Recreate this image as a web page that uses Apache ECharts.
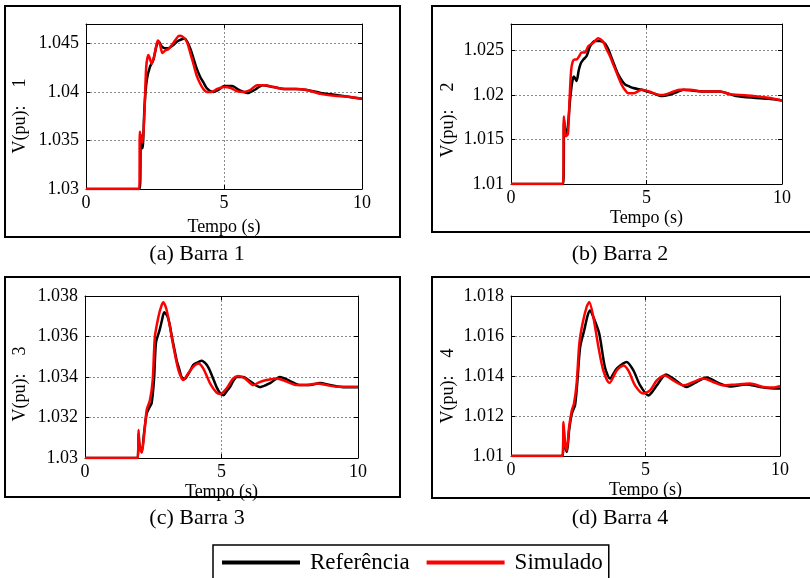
<!DOCTYPE html>
<html><head><meta charset="utf-8">
<script src="https://cdn.jsdelivr.net/npm/echarts@6/dist/echarts.min.js"></script>
<style>html,body{margin:0;padding:0;background:#fff}#c{width:810px;height:578px}</style>
</head><body><div id="c"></div>
<script>
// ---- data ----
const xTicks = [0, 5, 10];
const panelTitles = ['(a) Barra 1', '(b) Barra 2', '(c) Barra 3', '(d) Barra 4'];
const yTitles = ['V(pu):    1', 'V(pu):    2', 'V(pu):    3', 'V(pu):    4'];
const seriesNames = ['Referência', 'Simulado'];

// Barra 1
const t1Ref = [0,1.95,1.98,2.0,2.05,2.12,2.2,2.32,2.44,2.55,2.64,2.74,2.88,2.98,3.15,3.3,3.45,3.57,3.68,3.8,3.9,4.0,4.13,4.25,4.37,4.5,4.62,4.8,5.0,5.3,5.55,5.85,6.1,6.4,6.8,7.2,7.6,8.0,8.5,9.0,9.5,10];
const v1Ref = [1.03,1.03,1.0352,1.0355,1.0342,1.0385,1.0412,1.0426,1.0433,1.0447,1.0452,1.0447,1.0445,1.0445,1.0448,1.0452,1.0454,1.0455,1.0451,1.0443,1.0434,1.0425,1.0416,1.041,1.0404,1.0401,1.04,1.0402,1.0406,1.0406,1.0402,1.0399,1.0402,1.0407,1.0405,1.0403,1.0403,1.0402,1.0399,1.0397,1.0395,1.0393];
const t1Sim = [0,1.93,1.95,1.99,2.05,2.12,2.18,2.26,2.32,2.38,2.48,2.6,2.68,2.77,2.88,2.98,3.1,3.25,3.38,3.5,3.65,3.78,3.9,4.02,4.13,4.25,4.38,4.55,4.75,5.0,5.25,5.45,5.7,5.95,6.2,6.5,6.8,7.2,7.6,8.0,8.5,9.0,9.5,10];
const v1Sim = [1.03,1.03,1.0359,1.0352,1.0348,1.038,1.0425,1.0438,1.0434,1.0429,1.0438,1.0453,1.0449,1.044,1.0443,1.0444,1.0448,1.0454,1.0458,1.0457,1.0452,1.044,1.0428,1.0416,1.0409,1.0403,1.04,1.04,1.0403,1.0405,1.0404,1.0401,1.04,1.0402,1.0407,1.0407,1.0405,1.0403,1.0403,1.0402,1.0398,1.0396,1.0395,1.0393];

// Barra 2
const t2Ref = [0,1.93,1.96,2.02,2.1,2.18,2.26,2.32,2.42,2.5,2.58,2.67,2.79,2.92,3.1,3.28,3.47,3.6,3.71,3.85,3.96,4.1,4.21,4.35,4.51,4.82,5.25,5.57,5.8,6.1,6.36,6.73,7.2,7.7,8.3,8.94,9.5,10];
const v2Ref = [1.01,1.01,1.0172,1.0154,1.0165,1.0195,1.0215,1.0221,1.0216,1.0228,1.0236,1.024,1.0244,1.0255,1.0261,1.0261,1.0258,1.0251,1.0242,1.0231,1.0223,1.0216,1.0212,1.021,1.0208,1.0206,1.0202,1.0199,1.02,1.0203,1.0206,1.0205,1.0204,1.0204,1.0199,1.0197,1.0196,1.0194];
const t2Sim = [0,1.92,1.95,2.02,2.1,2.16,2.22,2.28,2.35,2.42,2.52,2.6,2.73,2.85,3.04,3.22,3.4,3.52,3.65,3.78,3.9,4.08,4.2,4.33,4.51,4.82,5.1,5.5,5.74,6.0,6.24,6.6,7.1,7.7,8.1,8.94,9.5,10];
const v2Sim = [1.01,1.01,1.0176,1.0154,1.0156,1.0195,1.0228,1.0238,1.024,1.024,1.0244,1.0248,1.0248,1.0255,1.0259,1.0264,1.026,1.0252,1.0244,1.0234,1.0225,1.0212,1.0206,1.0202,1.0202,1.0206,1.0204,1.02,1.0201,1.0204,1.0206,1.0206,1.0204,1.0204,1.0201,1.0199,1.0197,1.0194];

// Barra 3
const t3Ref = [0,1.93,1.96,2.0,2.08,2.16,2.26,2.36,2.44,2.53,2.6,2.73,2.82,2.9,3.02,3.1,3.18,3.27,3.36,3.45,3.54,3.66,3.76,3.85,3.97,4.09,4.27,4.46,4.58,4.7,4.82,4.95,5.07,5.19,5.31,5.43,5.56,5.8,6.04,6.41,6.78,7.14,7.51,7.88,8.24,8.61,8.97,9.46,10];
const v3Ref = [1.03,1.03,1.0312,1.0306,1.0303,1.0312,1.0322,1.0325,1.0327,1.0339,1.0357,1.0363,1.0368,1.0372,1.037,1.0366,1.036,1.0354,1.0348,1.0344,1.034,1.0339,1.0341,1.0343,1.0346,1.0347,1.0348,1.0346,1.0343,1.0339,1.0335,1.0332,1.0331,1.0333,1.0335,1.0338,1.034,1.034,1.0338,1.0335,1.0337,1.034,1.0338,1.0336,1.0336,1.0337,1.0336,1.0335,1.0335];
const t3Sim = [0,1.93,1.96,2.0,2.08,2.16,2.26,2.38,2.48,2.56,2.69,2.79,2.87,2.99,3.11,3.24,3.42,3.6,3.78,3.97,4.15,4.33,4.58,4.82,4.95,5.19,5.43,5.62,5.86,6.17,6.35,6.65,7.02,7.39,7.75,8.12,8.49,8.85,9.22,10];
const v3Sim = [1.03,1.03,1.03138,1.03056,1.03026,1.03105,1.03237,1.03286,1.03385,1.03599,1.03698,1.03748,1.03769,1.03731,1.03649,1.0355,1.03435,1.03385,1.03418,1.03451,1.03467,1.03443,1.03369,1.03323,1.03316,1.03344,1.03393,1.03405,1.03393,1.0336,1.03372,1.03385,1.03393,1.03377,1.0336,1.0336,1.03368,1.0336,1.03352,1.03352];

// Barra 4
const t4Ref = [0,1.92,1.95,2.0,2.08,2.16,2.26,2.38,2.47,2.57,2.72,2.85,2.94,3.06,3.28,3.49,3.68,3.93,4.3,4.55,4.8,5.11,5.42,5.76,6.03,6.53,6.9,7.27,7.77,8.14,8.75,9.26,9.94,10];
const v4Ref = [1.01,1.01,1.01145,1.01062,1.0102,1.01128,1.01212,1.01253,1.01378,1.01545,1.01628,1.01703,1.01728,1.01695,1.01612,1.01445,1.01387,1.01437,1.0147,1.01428,1.01353,1.01303,1.01353,1.01408,1.01387,1.01345,1.0137,1.01392,1.01362,1.01348,1.01358,1.01345,1.01337,1.01337];
const t4Sim = [0,1.92,1.95,2.0,2.07,2.16,2.26,2.34,2.44,2.54,2.66,2.81,2.91,3.06,3.25,3.43,3.66,3.93,4.18,4.36,4.61,4.92,5.17,5.42,5.72,6.03,6.41,6.78,7.15,7.52,7.89,8.39,8.88,9.38,9.75,10];
const v4Sim = [1.01,1.01,1.0117,1.01078,1.01028,1.01145,1.01228,1.01262,1.01362,1.01562,1.01662,1.01745,1.0177,1.01695,1.01545,1.01428,1.01365,1.01428,1.01453,1.01428,1.01353,1.01312,1.01328,1.01378,1.01403,1.01378,1.01353,1.0137,1.01387,1.0137,1.01353,1.01358,1.01362,1.01345,1.01342,1.0135];

// y-axis ranges / tick steps
const yMin = [1.03, 1.01, 1.03, 1.01];
const yMax = [1.047, 1.028, 1.038, 1.018];
const yStep = [0.005, 0.005, 0.002, 0.002];

// ---- layout ----
const FONT = "'Liberation Serif', 'Times New Roman', serif";
const grids = [
  {left: 86, top: 24, width: 276, height: 165},
  {left: 511, top: 24, width: 271, height: 160},
  {left: 85, top: 296, width: 273, height: 162},
  {left: 511, top: 296, width: 269, height: 160}
];
const nameGaps = [29, 25, 25, 25];
const boxes = [
  {x: 5, y: 6, width: 395, height: 231},
  {x: 432, y: 6, width: 390, height: 226},
  {x: 5, y: 277, width: 395, height: 220},
  {x: 432, y: 277, width: 390, height: 221}
];
const captionPos = [[197, 254], [620, 254], [197, 518], [620, 518]];
const yTitlePos = [[20, 116], [448, 120], [20, 384], [448, 386]];

const refT = [t1Ref, t2Ref, t3Ref, t4Ref], refV = [v1Ref, v2Ref, v3Ref, v4Ref];
const simT = [t1Sim, t2Sim, t3Sim, t4Sim], simV = [v1Sim, v2Sim, v3Sim, v4Sim];
const pairs = (t, v) => t.map((x, i) => [x, v[i]]);

const gridLine = {show: true, lineStyle: {color: '#8a8a8a', type: [2, 2], width: 1}};
const axLine = {show: true, onZero: false, lineStyle: {color: '#000', width: 1}};
const tick = {show: true, inside: true, length: 4, lineStyle: {color: '#000'}};
const fmt = v => String(parseFloat(Number(v).toFixed(4)));

const option = {
  animation: false,
  backgroundColor: '#fff',
  textStyle: {fontFamily: FONT},
  grid: grids.map(g => Object.assign({containLabel: false}, g)),
  xAxis: [], yAxis: [], series: [],
  legend: {
    data: seriesNames,
    left: 213, top: 545,
    padding: [6, 6, 6, 9],
    itemGap: 17, itemWidth: 78, itemHeight: 4, icon: 'rect',
    borderColor: '#000', borderWidth: 1.5,
    textStyle: {fontFamily: FONT, fontSize: 23, color: '#000', padding: [0, 0, 0, 5]}
  },
  graphic: []
};

for (let p = 0; p < 4; p++) {
  option.xAxis.push({
    type: 'value', gridIndex: p, min: 0, max: 10, interval: 5, position: 'bottom',
    axisLine: axLine, axisTick: tick, splitLine: gridLine,
    axisLabel: {fontFamily: FONT, fontSize: 18, color: '#000', margin: 5,
      formatter: v => (xTicks.indexOf(v) >= 0 ? String(v) : '')},
    name: 'Tempo (s)', nameLocation: 'middle', nameGap: nameGaps[p],
    nameTextStyle: {fontFamily: FONT, fontSize: 18, color: '#000'}
  });
  option.xAxis.push({
    type: 'value', gridIndex: p, min: 0, max: 10, interval: 5, position: 'top',
    axisLine: axLine, axisTick: tick, splitLine: {show: false}, axisLabel: {show: false}
  });
  option.yAxis.push({
    type: 'value', gridIndex: p, min: yMin[p], max: yMax[p], interval: yStep[p], position: 'left',
    axisLine: axLine, axisTick: tick, splitLine: gridLine,
    axisLabel: {fontFamily: FONT, fontSize: 18, color: '#000', margin: 7, showMaxLabel: p >= 2, formatter: fmt}
  });
  option.yAxis.push({
    type: 'value', gridIndex: p, min: yMin[p], max: yMax[p], interval: yStep[p], position: 'right',
    axisLine: axLine, axisTick: tick, splitLine: {show: false}, axisLabel: {show: false}
  });
  option.series.push({
    name: seriesNames[0], type: 'line', xAxisIndex: 2 * p, yAxisIndex: 2 * p,
    data: pairs(refT[p], refV[p]), showSymbol: false, smooth: 0.25,
    lineStyle: {color: '#000', width: 2.5}, itemStyle: {color: '#000'}, z: 2
  });
  option.series.push({
    name: seriesNames[1], type: 'line', xAxisIndex: 2 * p, yAxisIndex: 2 * p,
    data: pairs(simT[p], simV[p]), showSymbol: false, smooth: 0.25,
    lineStyle: {color: '#ff0000', width: 2.5}, itemStyle: {color: '#ff0000'}, z: 3
  });
  option.graphic.push({
    type: 'rect', shape: boxes[p], style: {fill: 'none', stroke: '#000', lineWidth: 2}, silent: true
  });
  option.graphic.push({
    type: 'text', x: captionPos[p][0], y: captionPos[p][1],
    style: {text: panelTitles[p], font: '22px ' + FONT, fill: '#000', align: 'center', verticalAlign: 'middle'}
  });
  option.graphic.push({
    type: 'text', x: yTitlePos[p][0], y: yTitlePos[p][1], rotation: Math.PI / 2,
    style: {text: yTitles[p], font: '18px ' + FONT, fill: '#000', align: 'center', verticalAlign: 'middle'}
  });
}

const chart = echarts.init(document.getElementById('c'), null, {renderer: 'canvas'});
chart.setOption(option);
</script></body></html>
